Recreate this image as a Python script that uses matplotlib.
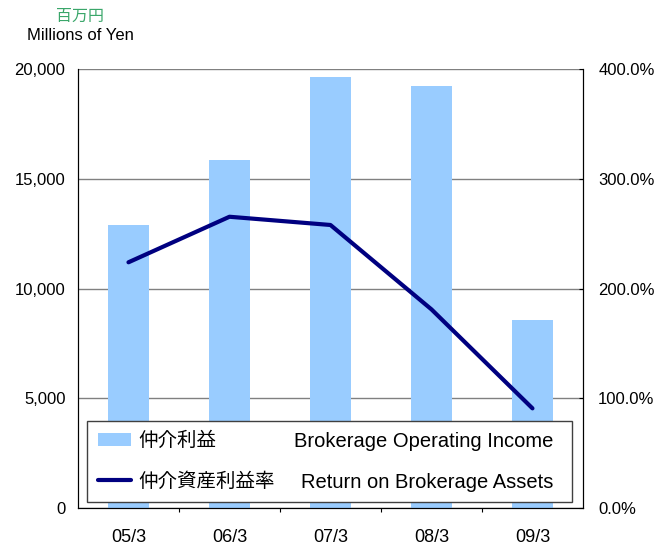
import matplotlib.pyplot as plt
import numpy as np

# data
periods = ["05/3", "06/3", "07/3", "08/3", "09/3"]
brokerageIncome = [12900, 15850, 19640, 19230, 8570]   # millions of yen
returnOnAssets = [223.9, 265.4, 257.9, 181.0, 90.8]      # percent

barColor = "#99CCFF"
lineColor = "#000080"
jpFont = ["Liberation Sans", "Noto Sans CJK JP"]

plt.rcParams["font.family"] = jpFont

fig = plt.figure(figsize=(6.71, 5.48), dpi=100)
ax1 = fig.add_axes([0.1162, 0.073, 0.7526, 0.801])
x = np.arange(len(periods))

ax1.bar(x, brokerageIncome, width=0.41, color=barColor, zorder=2,
        label="仲介利益")
ax1.set_xlim(-0.5, len(periods) - 0.5)
ax1.set_ylim(0, 20000)
ax1.set_yticks([0, 5000, 10000, 15000, 20000])
ax1.set_yticklabels(["0", "5,000", "10,000", "15,000", "20,000"])
ax1.yaxis.grid(True, color="#808080", linewidth=1.0, zorder=0)
ax1.set_axisbelow(True)
ax1.tick_params(axis="y", length=0, pad=9, labelsize=12)

# ticks between categories, labels at the centres
ax1.set_xticks(x[:-1] + 0.5)
ax1.set_xticklabels([])
ax1.set_xticks(x, minor=True)
ax1.set_xticklabels(periods, minor=True)
ax1.tick_params(axis="x", which="major", length=3, direction="out", color="black")
ax1.tick_params(axis="x", which="minor", length=0, pad=15, labelsize=13)

for side in ["left", "bottom", "right"]:
    ax1.spines[side].set_color("black")
ax1.spines["top"].set_visible(False)

ax2 = ax1.twinx()
ax2.plot(x, returnOnAssets, color=lineColor, linewidth=3, zorder=3,
         label="仲介資産利益率", solid_capstyle="round")
ax2.set_ylim(0, 400)
ax2.set_yticks([0, 100, 200, 300, 400])
ax2.set_yticklabels([f"{v:.1f}%" for v in [0, 100, 200, 300, 400]])
ax2.tick_params(axis="y", length=3, direction="in", pad=11, labelsize=12)
ax2.spines["top"].set_visible(False)
ax2.spines["right"].set_color("black")

h1, l1 = ax1.get_legend_handles_labels()
h2, l2 = ax2.get_legend_handles_labels()
leg = ax2.legend(h1 + h2, l1 + l2, loc="lower left", mode="expand",
                 bbox_to_anchor=(0.018, 0.0137, 0.96, 0.18), fontsize=14,
                 fancybox=False, framealpha=1, edgecolor="#404040",
                 borderpad=0.55, labelspacing=1.16, handlelength=1.7,
                 handletextpad=0.4, borderaxespad=0)
leg.get_frame().set_linewidth(1.0)
leg.set_zorder(5)

# english half of each legend entry, lined up with the japanese text rows
fig.canvas.draw()
englishLabels = ["Brokerage Operating Income", "Return on Brokerage Assets"]
toAxes = ax2.transAxes.inverted()
for legText, label in zip(leg.get_texts(), englishLabels):
    bb = legText.get_window_extent()
    yPos = toAxes.transform((0, (bb.y0 + bb.y1) / 2))[1]
    ax2.text(0.9406, yPos, label, transform=ax2.transAxes, ha="right",
             va="center", fontsize=14.5, zorder=6)

fig.text(0.119, 0.971, "百万円", ha="center", va="center", fontsize=11.5,
         color="#3AA66A", family=["Noto Sans CJK JP"])
fig.text(0.12, 0.936, "Millions of Yen", ha="center", va="center", fontsize=12)

plt.savefig("out.png", dpi=100)
